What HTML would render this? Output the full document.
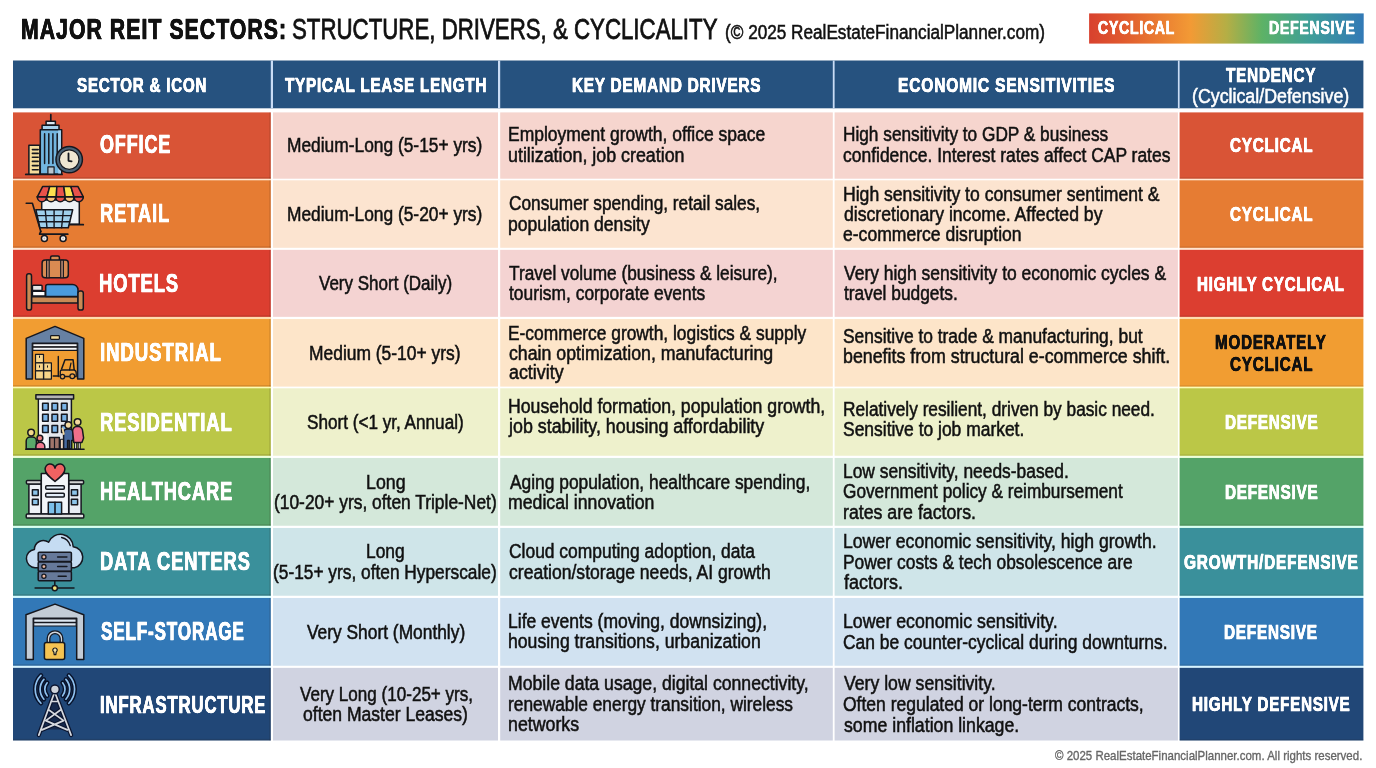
<!DOCTYPE html>
<html><head><meta charset="utf-8"><title>Major REIT Sectors</title>
<style>
html,body{margin:0;padding:0}
body{width:1376px;height:768px;position:relative;overflow:hidden;background:#fff;font-family:"Liberation Sans",sans-serif;color:#111}
.tx{position:absolute;left:0;top:0;width:1376px;height:768px;will-change:transform}
.t{position:absolute;white-space:nowrap;transform-origin:0 0}
svg{position:absolute;overflow:visible}
</style></head><body>
<svg width="1376" height="768" viewBox="0 0 1376 768" style="left:0;top:0">
<defs><linearGradient id="lg" x1="0" x2="1" y1="0" y2="0"><stop offset="0" stop-color="#D8412E"/><stop offset=".12" stop-color="#E0592E"/><stop offset=".37" stop-color="#F29A35"/><stop offset=".5" stop-color="#B5AE45"/><stop offset=".63" stop-color="#5DB266"/><stop offset=".8" stop-color="#3F9F97"/><stop offset="1" stop-color="#3279B6"/></linearGradient></defs>
<rect x="1089.10" y="13.40" width="274.60" height="30.20" fill="url(#lg)" />
<rect x="13.00" y="178.10" width="258.00" height="2.80" fill="#ffe8d2" />
<rect x="1179.70" y="178.10" width="183.70" height="2.80" fill="#ffe8d2" />
<rect x="13.00" y="247.20" width="258.00" height="3.25" fill="#ffe4d0" />
<rect x="1179.70" y="247.20" width="183.70" height="3.25" fill="#ffe4d0" />
<rect x="13.00" y="316.25" width="258.00" height="3.40" fill="#ffdcae" />
<rect x="1179.70" y="316.25" width="183.70" height="3.40" fill="#ffdcae" />
<rect x="13.00" y="386.00" width="258.00" height="2.90" fill="#fdfcb4" />
<rect x="1179.70" y="386.00" width="183.70" height="2.90" fill="#fdfcb4" />
<rect x="13.00" y="455.15" width="258.00" height="3.40" fill="#edffd8" />
<rect x="1179.70" y="455.15" width="183.70" height="3.40" fill="#edffd8" />
<rect x="13.00" y="525.15" width="258.00" height="3.40" fill="#d8fff0" />
<rect x="1179.70" y="525.15" width="183.70" height="3.40" fill="#d8fff0" />
<rect x="13.00" y="595.15" width="258.00" height="3.40" fill="#d4fbff" />
<rect x="1179.70" y="595.15" width="183.70" height="3.40" fill="#d4fbff" />
<rect x="13.00" y="665.15" width="258.00" height="3.30" fill="#d6f4ff" />
<rect x="1179.70" y="665.15" width="183.70" height="3.30" fill="#d6f4ff" />
<rect x="13.00" y="60.50" width="1350.40" height="47.80" fill="#26527F" />
<rect x="270.80" y="60.50" width="2.20" height="47.80" fill="#c9dcf5" />
<rect x="498.00" y="60.50" width="2.20" height="47.80" fill="#c9dcf5" />
<rect x="832.80" y="60.50" width="1.80" height="47.80" fill="#c9dcf5" />
<rect x="1177.90" y="60.50" width="1.70" height="47.80" fill="#c9dcf5" />
<rect x="13.00" y="112.40" width="257.80" height="66.30" fill="#D95436" />
<rect x="13.00" y="177.10" width="257.80" height="1.60" fill="rgb(30,15,0)" opacity=".12"/>
<rect x="269.20" y="112.40" width="1.60" height="66.30" fill="rgb(30,15,0)" opacity=".12"/>
<rect x="273.00" y="112.40" width="225.00" height="66.30" fill="#F6D5CE" />
<rect x="500.20" y="112.40" width="332.60" height="66.30" fill="#F6D5CE" />
<rect x="834.60" y="112.40" width="343.30" height="66.30" fill="#F6D5CE" />
<rect x="1179.60" y="112.40" width="183.80" height="66.30" fill="#D95436" />
<rect x="1179.60" y="177.30" width="183.80" height="1.40" fill="rgb(30,15,0)" opacity=".1"/>
<rect x="13.00" y="180.30" width="257.80" height="67.50" fill="#E67C33" />
<rect x="13.00" y="246.20" width="257.80" height="1.60" fill="rgb(30,15,0)" opacity=".12"/>
<rect x="269.20" y="180.30" width="1.60" height="67.50" fill="rgb(30,15,0)" opacity=".12"/>
<rect x="273.00" y="180.30" width="225.00" height="67.50" fill="#FCE4D0" />
<rect x="500.20" y="180.30" width="332.60" height="67.50" fill="#FCE4D0" />
<rect x="834.60" y="180.30" width="343.30" height="67.50" fill="#FCE4D0" />
<rect x="1179.60" y="180.30" width="183.80" height="67.50" fill="#E67C33" />
<rect x="1179.60" y="246.40" width="183.80" height="1.40" fill="rgb(30,15,0)" opacity=".1"/>
<rect x="13.00" y="249.85" width="257.80" height="67.00" fill="#DC3E30" />
<rect x="13.00" y="315.25" width="257.80" height="1.60" fill="rgb(30,15,0)" opacity=".12"/>
<rect x="269.20" y="249.85" width="1.60" height="67.00" fill="rgb(30,15,0)" opacity=".12"/>
<rect x="273.00" y="249.85" width="225.00" height="67.00" fill="#F4D3D2" />
<rect x="500.20" y="249.85" width="332.60" height="67.00" fill="#F4D3D2" />
<rect x="834.60" y="249.85" width="343.30" height="67.00" fill="#F4D3D2" />
<rect x="1179.60" y="249.85" width="183.80" height="67.00" fill="#DC3E30" />
<rect x="1179.60" y="315.45" width="183.80" height="1.40" fill="rgb(30,15,0)" opacity=".1"/>
<rect x="13.00" y="319.05" width="257.80" height="67.55" fill="#F19D32" />
<rect x="13.00" y="385.00" width="257.80" height="1.60" fill="rgb(30,15,0)" opacity=".12"/>
<rect x="269.20" y="319.05" width="1.60" height="67.55" fill="rgb(30,15,0)" opacity=".12"/>
<rect x="273.00" y="319.05" width="225.00" height="67.55" fill="#FDE5C9" />
<rect x="500.20" y="319.05" width="332.60" height="67.55" fill="#FDE5C9" />
<rect x="834.60" y="319.05" width="343.30" height="67.55" fill="#FDE5C9" />
<rect x="1179.60" y="319.05" width="183.80" height="67.55" fill="#F19D32" />
<rect x="1179.60" y="385.20" width="183.80" height="1.40" fill="rgb(30,15,0)" opacity=".1"/>
<rect x="13.00" y="388.30" width="257.80" height="67.45" fill="#BBC747" />
<rect x="13.00" y="454.15" width="257.80" height="1.60" fill="rgb(30,15,0)" opacity=".12"/>
<rect x="269.20" y="388.30" width="1.60" height="67.45" fill="rgb(30,15,0)" opacity=".12"/>
<rect x="273.00" y="388.30" width="225.00" height="67.45" fill="#EEF1CC" />
<rect x="500.20" y="388.30" width="332.60" height="67.45" fill="#EEF1CC" />
<rect x="834.60" y="388.30" width="343.30" height="67.45" fill="#EEF1CC" />
<rect x="1179.60" y="388.30" width="183.80" height="67.45" fill="#BBC747" />
<rect x="1179.60" y="454.35" width="183.80" height="1.40" fill="rgb(30,15,0)" opacity=".1"/>
<rect x="13.00" y="457.95" width="257.80" height="67.80" fill="#54A368" />
<rect x="13.00" y="524.15" width="257.80" height="1.60" fill="rgb(30,15,0)" opacity=".12"/>
<rect x="269.20" y="457.95" width="1.60" height="67.80" fill="rgb(30,15,0)" opacity=".12"/>
<rect x="273.00" y="457.95" width="225.00" height="67.80" fill="#D4E8DA" />
<rect x="500.20" y="457.95" width="332.60" height="67.80" fill="#D4E8DA" />
<rect x="834.60" y="457.95" width="343.30" height="67.80" fill="#D4E8DA" />
<rect x="1179.60" y="457.95" width="183.80" height="67.80" fill="#54A368" />
<rect x="1179.60" y="524.35" width="183.80" height="1.40" fill="rgb(30,15,0)" opacity=".1"/>
<rect x="13.00" y="527.95" width="257.80" height="67.80" fill="#3A909B" />
<rect x="13.00" y="594.15" width="257.80" height="1.60" fill="rgb(30,15,0)" opacity=".12"/>
<rect x="269.20" y="527.95" width="1.60" height="67.80" fill="rgb(30,15,0)" opacity=".12"/>
<rect x="273.00" y="527.95" width="225.00" height="67.80" fill="#CFE5E9" />
<rect x="500.20" y="527.95" width="332.60" height="67.80" fill="#CFE5E9" />
<rect x="834.60" y="527.95" width="343.30" height="67.80" fill="#CFE5E9" />
<rect x="1179.60" y="527.95" width="183.80" height="67.80" fill="#3A909B" />
<rect x="1179.60" y="594.35" width="183.80" height="1.40" fill="rgb(30,15,0)" opacity=".1"/>
<rect x="13.00" y="597.95" width="257.80" height="67.80" fill="#3278B7" />
<rect x="13.00" y="664.15" width="257.80" height="1.60" fill="rgb(30,15,0)" opacity=".12"/>
<rect x="269.20" y="597.95" width="1.60" height="67.80" fill="rgb(30,15,0)" opacity=".12"/>
<rect x="273.00" y="597.95" width="225.00" height="67.80" fill="#D1E2F1" />
<rect x="500.20" y="597.95" width="332.60" height="67.80" fill="#D1E2F1" />
<rect x="834.60" y="597.95" width="343.30" height="67.80" fill="#D1E2F1" />
<rect x="1179.60" y="597.95" width="183.80" height="67.80" fill="#3278B7" />
<rect x="1179.60" y="664.35" width="183.80" height="1.40" fill="rgb(30,15,0)" opacity=".1"/>
<rect x="13.00" y="667.85" width="257.80" height="72.65" fill="#214777" />
<rect x="13.00" y="738.90" width="257.80" height="1.60" fill="rgb(30,15,0)" opacity=".12"/>
<rect x="269.20" y="667.85" width="1.60" height="72.65" fill="rgb(30,15,0)" opacity=".12"/>
<rect x="273.00" y="667.85" width="225.00" height="72.65" fill="#D0D3E1" />
<rect x="500.20" y="667.85" width="332.60" height="72.65" fill="#D0D3E1" />
<rect x="834.60" y="667.85" width="343.30" height="72.65" fill="#D0D3E1" />
<rect x="1179.60" y="667.85" width="183.80" height="72.65" fill="#214777" />
<rect x="1179.60" y="739.10" width="183.80" height="1.40" fill="rgb(30,15,0)" opacity=".1"/>

<g stroke="#15171f" stroke-width="1.5" stroke-linejoin="round" stroke-linecap="round">
<path d="M25.8 174.4H62" fill="none" stroke-width="1.8"/>
<rect x="28.9" y="145.2" width="11" height="29" fill="#f5dc9b"/>
<path d="M32.4 149.6h5.8M32.4 153.4h5.8M32.4 157.3h5.8M32.4 161.4h5.8M32.4 165.6h5.8M32.4 169.7h5.8" fill="none" stroke-width="1.6"/>
<path d="M50.8 114.7V122" fill="none" stroke-width="1.7"/>
<rect x="46.1" y="121.3" width="9.3" height="4" fill="#dbe9f2"/>
<rect x="42.1" y="125.3" width="16.9" height="4.4" fill="#a8d3ee"/>
<rect x="40.3" y="129.7" width="21.4" height="44.3" fill="#72b5df"/>
<rect x="58.2" y="130.5" width="2.8" height="43" fill="#a3d0ee" stroke="none"/>
<rect x="47.9" y="166.9" width="6.2" height="7.1" fill="#b9c6cf" stroke-width="1.2"/>
<path d="M44.6 133.7V163.4M48.8 133.7V163.4M52.9 133.7V163.4M57.2 133.7V163.4" fill="none" stroke-width="1.5"/>
<circle cx="69.2" cy="159.6" r="13.2" fill="#4a6276"/>
<circle cx="69.2" cy="159.6" r="9.8" fill="#efe6d2" stroke-width="1.2"/>
<path d="M68.5 153.4V160.8L71.6 161.3" fill="none" stroke-width="1.8"/>
</g>
<g stroke="#15171f" stroke-width="1.5" stroke-linejoin="round" stroke-linecap="round">
<rect x="41.7" y="200" width="37.6" height="24.3" fill="#eef2f6"/>
<path d="M69.6 224.7H83.3" fill="none" stroke-width="1.7"/>
<path d="M37.3 196.8a4.6 2.9 0 0 0 9.2 0a4.6 2.9 0 0 0 9.2 0a4.6 2.9 0 0 0 9.2 0a4.6 2.9 0 0 0 9.2 0a4.6 2.9 0 0 0 9.2 0z" fill="#e8524a" transform="translate(0 0) scale(1 1)"/>
<path d="M46.5 196.8a4.6 5 0 0 0 9.2 0zM64.9 196.8a4.6 5 0 0 0 9.2 0z" fill="#f8c27a"/>
<path d="M37.3 196.8a4.6 5 0 0 0 9.2 0zM55.7 196.8a4.6 5 0 0 0 9.2 0zM74.1 196.8a4.6 5 0 0 0 9.2 0z" fill="#e8524a"/>
<path d="M42.6 186.6H49.7L47 196.8H37.3z" fill="#e8524a"/>
<path d="M49.7 186.6H56.8L56.3 196.8H47z" fill="#fbe04e"/>
<path d="M56.8 186.6H63.8L65.2 196.8H56.3z" fill="#e8524a"/>
<path d="M63.8 186.6H70.9L74 196.8H65.2z" fill="#fbe04e"/>
<path d="M70.9 186.6H78L83.3 196.8H74z" fill="#e8524a"/>
<path d="M35.9 209.7H72.7L68.3 227.8H39.9z" fill="#9fd0ec"/>
<path d="M37.3 215.6H71.3M38.7 221.7H69.8M45.2 209.7L47 227.8M54.1 209.7V227.8M63.4 209.7L61.6 227.8" fill="none" stroke-width="1.4"/>
<path d="M26.2 203.2H32.4L40.8 231.4" fill="none" stroke-width="1.6"/>
<path d="M39.9 234.2H67.8" fill="none" stroke-width="1.7"/>
<path d="M40.8 231.4L39.6 234.2" fill="none" stroke-width="1.7"/>
<circle cx="44.4" cy="238.5" r="3" fill="#f4f4f4"/><circle cx="63.1" cy="238.5" r="3" fill="#f4f4f4"/>
<circle cx="44.4" cy="238.5" r="0.9" fill="#b8b8b8" stroke="none"/><circle cx="63.1" cy="238.5" r="0.9" fill="#b8b8b8" stroke="none"/>
</g>
<g stroke="#15171f" stroke-width="1.5" stroke-linejoin="round" stroke-linecap="round">
<rect x="50.6" y="256.1" width="8.8" height="5.5" rx="1.5" fill="#d98b52"/>
<rect x="42.1" y="260.1" width="26.2" height="17.7" rx="3" fill="#d98b52"/>
<rect x="46.6" y="260.1" width="2.6" height="17.7" fill="#b98a72" stroke-width="1.1"/>
<rect x="60.7" y="260.1" width="2.7" height="17.7" fill="#b98a72" stroke-width="1.1"/>
<rect x="31.5" y="296.8" width="46.5" height="6.2" fill="#c98a55"/>
<rect x="32.4" y="285.3" width="9.7" height="5.2" rx="1" fill="#e6e6e6"/>
<rect x="32.4" y="291.3" width="12.8" height="4.8" fill="#ffffff"/>
<path d="M45.7 296.4V286.4a2 2 0 0 1 2-2H72.5a5.5 5.5 0 0 1 5.5 5.5V296.4z" fill="#4a9bdc"/>
<rect x="26.6" y="273.8" width="4.9" height="36.3" rx="2.2" fill="#c98a55"/>
<rect x="78" y="291.1" width="5.3" height="19" rx="2.2" fill="#c98a55"/>
</g>
<g stroke="#15171f" stroke-width="1.5" stroke-linejoin="round" stroke-linecap="round">
<path d="M26.2 379.1V338.4L55 326.4L83.8 338.4V379.1H77.6V343.2H32.4V379.1z" fill="#6781a3"/>
<rect x="50.6" y="335.7" width="8.8" height="3.6" rx="0.8" fill="#f5dc9b" stroke-width="1.2"/>
<rect x="32.8" y="343.6" width="44.4" height="3.2" fill="#f4f6f8" stroke-width="1.2"/>
<rect x="32.8" y="347.2" width="44.4" height="3.2" fill="#f4f6f8" stroke-width="1.2"/>
<g fill="#f7d489" stroke-width="1.2">
<rect x="35.5" y="354.3" width="8" height="8.6"/><rect x="35.5" y="362.9" width="8" height="8"/><rect x="35.5" y="370.9" width="8" height="8.2"/>
<rect x="43.7" y="362.9" width="7.7" height="8"/><rect x="43.7" y="370.9" width="7.7" height="8.2"/>
</g>
<path d="M39.5 356v1.4M39.5 365.8v1.4M47.5 365.8v1.4" fill="none" stroke-width="1"/>
<path d="M58.3 356.5V376.5M53.2 376H59" fill="none" stroke-width="1.4"/>
<path d="M61.6 369L65 359.8H73.1L74.2 370" fill="none" stroke-width="1.5"/>
<path d="M60.3 376.5V371.5Q60.3 370 62 370H74Q76.2 370.5 76.2 373V376.5z" fill="#f0a848" stroke-width="1.3"/>
<path d="M69.5 370L71 363" fill="none" stroke-width="1.2"/>
<circle cx="62.5" cy="376.6" r="2.2" fill="#e7a24a" stroke-width="1.3"/><circle cx="72.3" cy="376.2" r="2.4" fill="#e7a24a" stroke-width="1.3"/>
</g>
<g stroke="#15171f" stroke-width="1.5" stroke-linejoin="round" stroke-linecap="round">
<rect x="38.4" y="398" width="33" height="51" fill="#e4e8ee"/>
<rect x="39.3" y="399" width="8" height="49.4" fill="#f6f7f9" stroke="none"/>
<rect x="35.9" y="394.8" width="37.7" height="4.2" fill="#b4b4b4"/>
<rect x="42.6" y="403.2" width="5.6" height="7" fill="#7ab4e8" stroke-width="1.5"/><rect x="52.0" y="403.2" width="5.6" height="7" fill="#7ab4e8" stroke-width="1.5"/><rect x="61.5" y="403.2" width="5.6" height="7" fill="#7ab4e8" stroke-width="1.5"/><rect x="42.6" y="414.3" width="5.6" height="7" fill="#7ab4e8" stroke-width="1.5"/><rect x="52.0" y="414.3" width="5.6" height="7" fill="#7ab4e8" stroke-width="1.5"/><rect x="61.5" y="414.3" width="5.6" height="7" fill="#7ab4e8" stroke-width="1.5"/><rect x="42.6" y="425.4" width="5.6" height="7" fill="#7ab4e8" stroke-width="1.5"/><rect x="52.0" y="425.4" width="5.6" height="7" fill="#7ab4e8" stroke-width="1.5"/><rect x="61.5" y="425.4" width="5.6" height="7" fill="#7ab4e8" stroke-width="1.5"/>
<rect x="49.7" y="437.5" width="9.7" height="11.5" fill="#a0756a"/>
<path d="M54.5 437.5V449" fill="none" stroke-width="1.2"/>
<rect x="60.3" y="439.3" width="3.5" height="9.7" rx="1" fill="#ecd5be" stroke-width="1.1"/>
<path d="M26.2 449V441a4 4 0 0 1 4-4H32.4a4 4 0 0 1 4 4V449z" fill="#5aaa6a"/>
<circle cx="31.1" cy="432.6" r="3.3" fill="#f3d98b"/>
<path d="M35.9 449V446.5a4.4 4.2 0 0 1 8.9 0V449z" fill="#f07a90"/>
<circle cx="39.9" cy="438.2" r="2.9" fill="#ef7f7f"/>
<path d="M63.6 449V432.6a3.6 3.6 0 0 1 3.6-3.6H69.5a3.6 3.6 0 0 1 3.6 3.6V440.5H71.6V449H69.2V440.5H67.6V449H65.6z" fill="#46699e"/>
<path d="M63.8 434L62.4 428.4" fill="none" stroke="#f3d9a0" stroke-width="1.8"/>
<circle cx="68.3" cy="425.1" r="3.3" fill="#f3d9a0"/>
<rect x="74.6" y="442" width="2.1" height="7" fill="#f4f0ee" stroke-width="1.1"/><rect x="78.2" y="442" width="2.1" height="7" fill="#f4f0ee" stroke-width="1.1"/>
<path d="M73.8 442.4L72.6 431a4 4.2 0 0 1 4-4.4H78.6a4 4.2 0 0 1 4 4.4L83.6 438L81.9 442.4z" fill="#ee6f8a"/>
<circle cx="77.6" cy="422" r="3.3" fill="#f3d9a0"/>
<path d="M25.8 449.3H84" fill="none" stroke-width="1.6"/>
</g>
<g stroke="#15171f" stroke-width="1.5" stroke-linejoin="round" stroke-linecap="round">
<rect x="28.9" y="484" width="12.4" height="30.1" fill="#eef1f6"/>
<rect x="68.7" y="484" width="12.4" height="30.1" fill="#e6ebf3"/>
<rect x="26.4" y="480.5" width="14.9" height="3.5" rx="1" fill="#d4d4d4"/>
<rect x="68.7" y="480.5" width="14.9" height="3.5" rx="1" fill="#d4d4d4"/>
<rect x="41.3" y="473.4" width="27.4" height="40.7" fill="#f3f5f9"/>
<rect x="26.2" y="514.1" width="57.6" height="4" rx="1.2" fill="#e2e2e2"/>
<path d="M55 481.4C49 476.5 45.2 473.6 45.2 469.8a4.7 4.7 0 0 1 9.8-1.6a4.7 4.7 0 0 1 9.8 1.6C64.8 473.6 61 476.5 55 481.4z" fill="#f06262"/>
<rect x="45.7" y="485.8" width="18.6" height="3.5" rx="1" fill="#e4eefa"/>
<rect x="45.7" y="493.3" width="18.6" height="3.6" rx="1" fill="#e4eefa"/>
<rect x="48.3" y="502.2" width="13.3" height="11.9" fill="#7cc0ea"/>
<path d="M55 502.2V514.1" fill="none" stroke-width="1.6"/>
<g fill="#8cc4ea"><rect x="32.4" y="489.8" width="5.8" height="5.7"/><rect x="32.4" y="499.3" width="5.8" height="5.5"/><rect x="71.4" y="489.8" width="6.2" height="5.7"/><rect x="71.4" y="499.3" width="6.2" height="5.5"/></g>
</g>
<g stroke="#15171f" stroke-width="1.5" stroke-linejoin="round" stroke-linecap="round">
<path d="M35 567.7a9.2 9.2 0 0 1 -0.6-18.3a9 9 0 0 1 14.2-7.2a12.8 12.8 0 0 1 24.6 4.6a10.6 10.6 0 0 1 1.2 20.9z" fill="#c5dcf2"/>
<path d="M61.6 537.5q6.5 1.2 8.7 8.2" fill="none" stroke-width="1.3"/>
<g fill="#66799a"><rect x="38.2" y="552.2" width="33.2" height="9.4" rx="1"/><rect x="38.2" y="561.9" width="33.2" height="9.4" rx="1"/><rect x="38.2" y="571.6" width="33.2" height="9.2" rx="1"/></g>
<g fill="#e7b5a0" stroke-width="1.3"><circle cx="43.9" cy="557" r="2.1"/><circle cx="43.9" cy="566.6" r="2.1"/><circle cx="43.9" cy="576.2" r="2.1"/></g>
<path d="M57.6 557H66.9M57.6 566.6H66.9M58.2 576.2H66.2" fill="none" stroke-width="1.5"/>
<path d="M54.8 580.8V586M35.1 588.1H74" fill="none" stroke-width="1.5"/>
<circle cx="54.8" cy="588.1" r="2.6" fill="#f2e07a"/>
</g>
<g stroke="#15171f" stroke-width="1.5" stroke-linejoin="round" stroke-linecap="round">
<path d="M26 659.4V614.7L55 604.1L83.8 614.7V659.4H76.7V618.3H33.3V659.4z" fill="#c3ccd6"/>
<rect x="33.7" y="619" width="42.5" height="3.3" fill="#dde7f2" stroke-width="1.2"/>
<rect x="33.7" y="622.6" width="42.5" height="3.4" fill="#dde7f2" stroke-width="1.2"/>
<path d="M47.2 643V638.6a7.8 7.8 0 0 1 15.6 0V643H60.2V638.8a5.2 5.2 0 0 0 -10.4 0V643z" fill="#d3d8de" stroke-width="1.3"/>
<rect x="44.4" y="642.6" width="20.3" height="16.8" rx="2" fill="#f5c352"/>
<path d="M55 648a2.1 2.1 0 0 1 1.2 3.9L55.8 654.6H54.2L53.8 651.9A2.1 2.1 0 0 1 55 648z" fill="#f3e2a6" stroke-width="1.2"/>
</g>
<g stroke-linejoin="round" stroke-linecap="round" fill="none">
<path d="M47.16 695.79A10.1 10.1 0 0 1 47.16 682.81M62.64 682.81A10.1 10.1 0 0 1 62.64 695.79M43.90 699.20A14.8 14.8 0 0 1 43.90 679.40M65.90 679.40A14.8 14.8 0 0 1 65.90 699.20M40.97 703.23A19.7 19.7 0 0 1 40.97 675.37M68.83 675.37A19.7 19.7 0 0 1 68.83 703.23" stroke="#08122a" stroke-width="4.6"/>
<path d="M47.16 695.79A10.1 10.1 0 0 1 47.16 682.81M62.64 682.81A10.1 10.1 0 0 1 62.64 695.79M43.90 699.20A14.8 14.8 0 0 1 43.90 679.40M65.90 679.40A14.8 14.8 0 0 1 65.90 699.20M40.97 703.23A19.7 19.7 0 0 1 40.97 675.37M68.83 675.37A19.7 19.7 0 0 1 68.83 703.23" stroke="#8ec0ee" stroke-width="1.7"/>
<path d="M54.7 694L42.5 729.5H67L54.7 694z" fill="#16294d" stroke="none"/>
<path d="M54.7 692L38.8 735.1M54.7 692L71.1 735.1M48.6 709.8L63.6 720.6M60.8 709.8L45.8 720.6M45.8 720.6L67.3 729.9M63.6 720.6L42 729.9M51 701.5H58.4" stroke="#0b1530" stroke-width="4.2"/>
<path d="M54.7 692L38.8 735.1M54.7 692L71.1 735.1M48.6 709.8L63.6 720.6M60.8 709.8L45.8 720.6M45.8 720.6L67.3 729.9M63.6 720.6L42 729.9M51 701.5H58.4" stroke="#d5d8de" stroke-width="1.7"/>
<circle cx="54.9" cy="689.3" r="4.4" fill="#cfd3da" stroke="#0b1530" stroke-width="1.5"/>
</g>
</svg>
<div class="tx">
<div class="t b" style="left:20.73px;top:15px;font-size:28.8px;line-height:28.8px;transform:scaleX(0.7367);-webkit-text-stroke:0.69px;letter-spacing:1.44px;font-weight:700;text-shadow:0.26px 0 0 currentColor,-0.26px 0 0 currentColor;">MAJOR REIT SECTORS:</div>
<div class="t" style="left:291.99px;top:15px;font-size:28.8px;line-height:28.8px;transform:scaleX(0.7730);-webkit-text-stroke:0.78px;">STRUCTURE, DRIVERS, &amp; CYCLICALITY</div>
<div class="t" style="left:725.27px;top:22px;font-size:20px;line-height:20px;transform:scaleX(0.8585);-webkit-text-stroke:0.54px;">(© 2025 RealEstateFinancialPlanner.com)</div>
<div class="t b" style="left:1097.52px;top:19px;font-size:18.5px;line-height:18.5px;transform:scaleX(0.7629);-webkit-text-stroke:0.44px;letter-spacing:0.93px;font-weight:700;text-shadow:0.17px 0 0 currentColor,-0.17px 0 0 currentColor;color:#fff;">CYCLICAL</div>
<div class="t b" style="left:1268.95px;top:19px;font-size:18.5px;line-height:18.5px;transform:scaleX(0.7631);-webkit-text-stroke:0.44px;letter-spacing:0.93px;font-weight:700;text-shadow:0.17px 0 0 currentColor,-0.17px 0 0 currentColor;color:#fff;">DEFENSIVE</div>
<div class="t b" style="left:77.48px;top:74px;font-size:21px;line-height:21px;transform:scaleX(0.7227);-webkit-text-stroke:0.5px;letter-spacing:1.05px;font-weight:700;text-shadow:0.19px 0 0 currentColor,-0.19px 0 0 currentColor;color:#fff;">SECTOR &amp; ICON</div>
<div class="t b" style="left:285.25px;top:74px;font-size:21px;line-height:21px;transform:scaleX(0.7262);-webkit-text-stroke:0.5px;letter-spacing:1.05px;font-weight:700;text-shadow:0.19px 0 0 currentColor,-0.19px 0 0 currentColor;color:#fff;">TYPICAL LEASE LENGTH</div>
<div class="t b" style="left:571.99px;top:74px;font-size:21px;line-height:21px;transform:scaleX(0.7310);-webkit-text-stroke:0.5px;letter-spacing:1.05px;font-weight:700;text-shadow:0.19px 0 0 currentColor,-0.19px 0 0 currentColor;color:#fff;">KEY DEMAND DRIVERS</div>
<div class="t b" style="left:897.78px;top:74px;font-size:21px;line-height:21px;transform:scaleX(0.7425);-webkit-text-stroke:0.5px;letter-spacing:1.05px;font-weight:700;text-shadow:0.19px 0 0 currentColor,-0.19px 0 0 currentColor;color:#fff;">ECONOMIC SENSITIVITIES</div>
<div class="t b" style="left:1226.35px;top:64px;font-size:21px;line-height:21px;transform:scaleX(0.7282);-webkit-text-stroke:0.5px;letter-spacing:1.05px;font-weight:700;text-shadow:0.19px 0 0 currentColor,-0.19px 0 0 currentColor;color:#fff;">TENDENCY</div>
<div class="t" style="left:1192.04px;top:86px;font-size:20px;line-height:20px;transform:scaleX(0.8897);-webkit-text-stroke:0.54px;color:#fff;">(Cyclical/Defensive)</div>
<div class="t b" style="left:99.94px;top:132px;font-size:25.2px;line-height:25.2px;transform:scaleX(0.7124);-webkit-text-stroke:0.6px;letter-spacing:1.26px;font-weight:700;text-shadow:0.23px 0 0 currentColor,-0.23px 0 0 currentColor;color:#fff;">OFFICE</div>
<div class="t b" style="left:99.86px;top:201px;font-size:25.2px;line-height:25.2px;transform:scaleX(0.7257);-webkit-text-stroke:0.6px;letter-spacing:1.26px;font-weight:700;text-shadow:0.23px 0 0 currentColor,-0.23px 0 0 currentColor;color:#fff;">RETAIL</div>
<div class="t b" style="left:99.46px;top:271px;font-size:25.2px;line-height:25.2px;transform:scaleX(0.7291);-webkit-text-stroke:0.6px;letter-spacing:1.26px;font-weight:700;text-shadow:0.23px 0 0 currentColor,-0.23px 0 0 currentColor;color:#fff;">HOTELS</div>
<div class="t b" style="left:100.35px;top:340px;font-size:25.2px;line-height:25.2px;transform:scaleX(0.7374);-webkit-text-stroke:0.6px;letter-spacing:1.26px;font-weight:700;text-shadow:0.23px 0 0 currentColor,-0.23px 0 0 currentColor;color:#fff;">INDUSTRIAL</div>
<div class="t b" style="left:99.86px;top:410px;font-size:25.2px;line-height:25.2px;transform:scaleX(0.7296);-webkit-text-stroke:0.6px;letter-spacing:1.26px;font-weight:700;text-shadow:0.23px 0 0 currentColor,-0.23px 0 0 currentColor;color:#fff;">RESIDENTIAL</div>
<div class="t b" style="left:99.87px;top:479px;font-size:25.2px;line-height:25.2px;transform:scaleX(0.7222);-webkit-text-stroke:0.6px;letter-spacing:1.26px;font-weight:700;text-shadow:0.23px 0 0 currentColor,-0.23px 0 0 currentColor;color:#fff;">HEALTHCARE</div>
<div class="t b" style="left:99.86px;top:549px;font-size:25.2px;line-height:25.2px;transform:scaleX(0.7257);-webkit-text-stroke:0.6px;letter-spacing:1.26px;font-weight:700;text-shadow:0.23px 0 0 currentColor,-0.23px 0 0 currentColor;color:#fff;">DATA CENTERS</div>
<div class="t b" style="left:100.57px;top:619px;font-size:25.2px;line-height:25.2px;transform:scaleX(0.6779);-webkit-text-stroke:0.6px;letter-spacing:1.26px;font-weight:700;text-shadow:0.23px 0 0 currentColor,-0.23px 0 0 currentColor;color:#fff;">SELF-STORAGE</div>
<div class="t b" style="left:99.93px;top:694px;font-size:23.5px;line-height:23.5px;transform:scaleX(0.7131);-webkit-text-stroke:0.56px;letter-spacing:1.18px;font-weight:700;text-shadow:0.21px 0 0 currentColor,-0.21px 0 0 currentColor;color:#fff;">INFRASTRUCTURE</div>
<div class="t" style="left:287.41px;top:135px;font-size:20px;line-height:20px;transform:scaleX(0.8678);-webkit-text-stroke:0.54px;">Medium-Long (5-15+ yrs)</div>
<div class="t" style="left:287.41px;top:204px;font-size:20px;line-height:20px;transform:scaleX(0.8678);-webkit-text-stroke:0.54px;">Medium-Long (5-20+ yrs)</div>
<div class="t" style="left:319.35px;top:273px;font-size:20px;line-height:20px;transform:scaleX(0.8504);-webkit-text-stroke:0.54px;">Very Short (Daily)</div>
<div class="t" style="left:309.31px;top:343px;font-size:20px;line-height:20px;transform:scaleX(0.8712);-webkit-text-stroke:0.54px;">Medium (5-10+ yrs)</div>
<div class="t" style="left:306.95px;top:412px;font-size:20px;line-height:20px;transform:scaleX(0.8567);-webkit-text-stroke:0.54px;">Short (&lt;1 yr, Annual)</div>
<div class="t" style="left:365.88px;top:472px;font-size:20px;line-height:20px;transform:scaleX(0.8881);-webkit-text-stroke:0.54px;">Long</div>
<div class="t" style="left:274.06px;top:492px;font-size:20px;line-height:20px;transform:scaleX(0.8691);-webkit-text-stroke:0.54px;">(10-20+ yrs, often Triple-Net)</div>
<div class="t" style="left:366.21px;top:541px;font-size:20px;line-height:20px;transform:scaleX(0.8691);-webkit-text-stroke:0.54px;">Long</div>
<div class="t" style="left:273.46px;top:562px;font-size:20px;line-height:20px;transform:scaleX(0.8655);-webkit-text-stroke:0.54px;">(5-15+ yrs, often Hyperscale)</div>
<div class="t" style="left:306.86px;top:622px;font-size:20px;line-height:20px;transform:scaleX(0.8677);-webkit-text-stroke:0.54px;">Very Short (Monthly)</div>
<div class="t" style="left:299.66px;top:684px;font-size:20px;line-height:20px;transform:scaleX(0.8529);-webkit-text-stroke:0.54px;">Very Long (10-25+ yrs,</div>
<div class="t" style="left:303.00px;top:704px;font-size:20px;line-height:20px;transform:scaleX(0.8780);-webkit-text-stroke:0.54px;">often Master Leases)</div>
<div class="t" style="left:508.10px;top:124px;font-size:20px;line-height:20px;transform:scaleX(0.8740);-webkit-text-stroke:0.54px;">Employment growth, office space</div>
<div class="t" style="left:508.38px;top:145px;font-size:20px;line-height:20px;transform:scaleX(0.8921);-webkit-text-stroke:0.54px;">utilization, job creation</div>
<div class="t" style="left:508.66px;top:193px;font-size:20px;line-height:20px;transform:scaleX(0.8620);-webkit-text-stroke:0.54px;">Consumer spending, retail sales,</div>
<div class="t" style="left:508.40px;top:214px;font-size:20px;line-height:20px;transform:scaleX(0.8794);-webkit-text-stroke:0.54px;">population density</div>
<div class="t" style="left:509.15px;top:263px;font-size:20px;line-height:20px;transform:scaleX(0.8619);-webkit-text-stroke:0.54px;">Travel volume (business &amp; leisure),</div>
<div class="t" style="left:509.27px;top:283px;font-size:20px;line-height:20px;transform:scaleX(0.8696);-webkit-text-stroke:0.54px;">tourism, corporate events</div>
<div class="t" style="left:508.11px;top:323px;font-size:20px;line-height:20px;transform:scaleX(0.8682);-webkit-text-stroke:0.54px;">E-commerce growth, logistics &amp; supply</div>
<div class="t" style="left:508.79px;top:343px;font-size:20px;line-height:20px;transform:scaleX(0.8868);-webkit-text-stroke:0.54px;">chain optimization, manufacturing</div>
<div class="t" style="left:508.78px;top:362px;font-size:20px;line-height:20px;transform:scaleX(0.8934);-webkit-text-stroke:0.54px;">activity</div>
<div class="t" style="left:508.09px;top:396px;font-size:20px;line-height:20px;transform:scaleX(0.8834);-webkit-text-stroke:0.54px;">Household formation, population growth,</div>
<div class="t" style="left:508.68px;top:416px;font-size:20px;line-height:20px;transform:scaleX(0.8921);-webkit-text-stroke:0.54px;">job stability, housing affordability</div>
<div class="t" style="left:509.50px;top:472px;font-size:20px;line-height:20px;transform:scaleX(0.8681);-webkit-text-stroke:0.54px;">Aging population, healthcare spending,</div>
<div class="t" style="left:508.36px;top:492px;font-size:20px;line-height:20px;transform:scaleX(0.8840);-webkit-text-stroke:0.54px;">medical innovation</div>
<div class="t" style="left:508.65px;top:541px;font-size:20px;line-height:20px;transform:scaleX(0.8711);-webkit-text-stroke:0.54px;">Cloud computing adoption, data</div>
<div class="t" style="left:508.79px;top:562px;font-size:20px;line-height:20px;transform:scaleX(0.8783);-webkit-text-stroke:0.54px;">creation/storage needs, AI growth</div>
<div class="t" style="left:508.10px;top:611px;font-size:20px;line-height:20px;transform:scaleX(0.8760);-webkit-text-stroke:0.54px;">Life events (moving, downsizing),</div>
<div class="t" style="left:508.32px;top:631px;font-size:20px;line-height:20px;transform:scaleX(0.8809);-webkit-text-stroke:0.54px;">housing transitions, urbanization</div>
<div class="t" style="left:508.09px;top:673px;font-size:20px;line-height:20px;transform:scaleX(0.8818);-webkit-text-stroke:0.54px;">Mobile data usage, digital connectivity,</div>
<div class="t" style="left:508.38px;top:694px;font-size:20px;line-height:20px;transform:scaleX(0.8661);-webkit-text-stroke:0.54px;">renewable energy transition, wireless</div>
<div class="t" style="left:508.36px;top:714px;font-size:20px;line-height:20px;transform:scaleX(0.8889);-webkit-text-stroke:0.54px;">networks</div>
<div class="t" style="left:842.82px;top:124px;font-size:20px;line-height:20px;transform:scaleX(0.8622);-webkit-text-stroke:0.54px;">High sensitivity to GDP &amp; business</div>
<div class="t" style="left:843.49px;top:145px;font-size:20px;line-height:20px;transform:scaleX(0.8730);-webkit-text-stroke:0.54px;">confidence. Interest rates affect CAP rates</div>
<div class="t" style="left:842.80px;top:184px;font-size:20px;line-height:20px;transform:scaleX(0.8789);-webkit-text-stroke:0.54px;">High sensitivity to consumer sentiment &amp;</div>
<div class="t" style="left:843.50px;top:204px;font-size:20px;line-height:20px;transform:scaleX(0.8819);-webkit-text-stroke:0.54px;">discretionary income. Affected by</div>
<div class="t" style="left:843.49px;top:224px;font-size:20px;line-height:20px;transform:scaleX(0.8780);-webkit-text-stroke:0.54px;">e-commerce disruption</div>
<div class="t" style="left:844.16px;top:263px;font-size:20px;line-height:20px;transform:scaleX(0.8727);-webkit-text-stroke:0.54px;">Very high sensitivity to economic cycles &amp;</div>
<div class="t" style="left:843.97px;top:283px;font-size:20px;line-height:20px;transform:scaleX(0.8672);-webkit-text-stroke:0.54px;">travel budgets.</div>
<div class="t" style="left:843.45px;top:326px;font-size:20px;line-height:20px;transform:scaleX(0.8694);-webkit-text-stroke:0.54px;">Sensitive to trade &amp; manufacturing, but</div>
<div class="t" style="left:843.09px;top:346px;font-size:20px;line-height:20px;transform:scaleX(0.8894);-webkit-text-stroke:0.54px;">benefits from structural e-commerce shift.</div>
<div class="t" style="left:842.82px;top:399px;font-size:20px;line-height:20px;transform:scaleX(0.8631);-webkit-text-stroke:0.54px;">Relatively resilient, driven by basic need.</div>
<div class="t" style="left:843.44px;top:419px;font-size:20px;line-height:20px;transform:scaleX(0.8722);-webkit-text-stroke:0.54px;">Sensitive to job market.</div>
<div class="t" style="left:842.81px;top:461px;font-size:20px;line-height:20px;transform:scaleX(0.8690);-webkit-text-stroke:0.54px;">Low sensitivity, needs-based.</div>
<div class="t" style="left:843.37px;top:481px;font-size:20px;line-height:20px;transform:scaleX(0.8618);-webkit-text-stroke:0.54px;">Government policy &amp; reimbursement</div>
<div class="t" style="left:843.06px;top:502px;font-size:20px;line-height:20px;transform:scaleX(0.8864);-webkit-text-stroke:0.54px;">rates are factors.</div>
<div class="t" style="left:842.79px;top:531px;font-size:20px;line-height:20px;transform:scaleX(0.8800);-webkit-text-stroke:0.54px;">Lower economic sensitivity, high growth.</div>
<div class="t" style="left:842.81px;top:552px;font-size:20px;line-height:20px;transform:scaleX(0.8684);-webkit-text-stroke:0.54px;">Power costs &amp; tech obsolescence are</div>
<div class="t" style="left:843.99px;top:572px;font-size:20px;line-height:20px;transform:scaleX(0.8999);-webkit-text-stroke:0.54px;">factors.</div>
<div class="t" style="left:842.78px;top:611px;font-size:20px;line-height:20px;transform:scaleX(0.8869);-webkit-text-stroke:0.54px;">Lower economic sensitivity.</div>
<div class="t" style="left:843.35px;top:632px;font-size:20px;line-height:20px;transform:scaleX(0.8716);-webkit-text-stroke:0.54px;">Can be counter-cyclical during downturns.</div>
<div class="t" style="left:844.16px;top:673px;font-size:20px;line-height:20px;transform:scaleX(0.8819);-webkit-text-stroke:0.54px;">Very low sensitivity.</div>
<div class="t" style="left:843.41px;top:694px;font-size:20px;line-height:20px;transform:scaleX(0.8755);-webkit-text-stroke:0.54px;">Often regulated or long-term contracts,</div>
<div class="t" style="left:843.75px;top:715px;font-size:20px;line-height:20px;transform:scaleX(0.8855);-webkit-text-stroke:0.54px;">some inflation linkage.</div>
<div class="t b" style="left:1229.59px;top:134px;font-size:21px;line-height:21px;transform:scaleX(0.7273);-webkit-text-stroke:0.5px;letter-spacing:1.05px;font-weight:700;text-shadow:0.19px 0 0 currentColor,-0.19px 0 0 currentColor;color:#fff;">CYCLICAL</div>
<div class="t b" style="left:1229.59px;top:203px;font-size:21px;line-height:21px;transform:scaleX(0.7273);-webkit-text-stroke:0.5px;letter-spacing:1.05px;font-weight:700;text-shadow:0.19px 0 0 currentColor,-0.19px 0 0 currentColor;color:#fff;">CYCLICAL</div>
<div class="t b" style="left:1196.60px;top:273px;font-size:21px;line-height:21px;transform:scaleX(0.7213);-webkit-text-stroke:0.5px;letter-spacing:1.05px;font-weight:700;text-shadow:0.19px 0 0 currentColor,-0.19px 0 0 currentColor;color:#fff;">HIGHLY CYCLICAL</div>
<div class="t b" style="left:1215.00px;top:331px;font-size:21px;line-height:21px;transform:scaleX(0.7245);-webkit-text-stroke:0.5px;letter-spacing:1.05px;font-weight:700;text-shadow:0.19px 0 0 currentColor,-0.19px 0 0 currentColor;">MODERATELY</div>
<div class="t b" style="left:1229.59px;top:353px;font-size:21px;line-height:21px;transform:scaleX(0.7273);-webkit-text-stroke:0.5px;letter-spacing:1.05px;font-weight:700;text-shadow:0.19px 0 0 currentColor,-0.19px 0 0 currentColor;">CYCLICAL</div>
<div class="t b" style="left:1224.50px;top:411px;font-size:21px;line-height:21px;transform:scaleX(0.7273);-webkit-text-stroke:0.5px;letter-spacing:1.05px;font-weight:700;text-shadow:0.19px 0 0 currentColor,-0.19px 0 0 currentColor;color:#fff;">DEFENSIVE</div>
<div class="t b" style="left:1224.50px;top:481px;font-size:21px;line-height:21px;transform:scaleX(0.7273);-webkit-text-stroke:0.5px;letter-spacing:1.05px;font-weight:700;text-shadow:0.19px 0 0 currentColor,-0.19px 0 0 currentColor;color:#fff;">DEFENSIVE</div>
<div class="t b" style="left:1184.19px;top:551px;font-size:21px;line-height:21px;transform:scaleX(0.7356);-webkit-text-stroke:0.5px;letter-spacing:1.05px;font-weight:700;text-shadow:0.19px 0 0 currentColor,-0.19px 0 0 currentColor;color:#fff;">GROWTH/DEFENSIVE</div>
<div class="t b" style="left:1224.10px;top:621px;font-size:21px;line-height:21px;transform:scaleX(0.7296);-webkit-text-stroke:0.5px;letter-spacing:1.05px;font-weight:700;text-shadow:0.19px 0 0 currentColor,-0.19px 0 0 currentColor;color:#fff;">DEFENSIVE</div>
<div class="t b" style="left:1191.70px;top:693px;font-size:21px;line-height:21px;transform:scaleX(0.7249);-webkit-text-stroke:0.5px;letter-spacing:1.05px;font-weight:700;text-shadow:0.19px 0 0 currentColor,-0.19px 0 0 currentColor;color:#fff;">HIGHLY DEFENSIVE</div>
<div class="t" style="left:1055.28px;top:749px;font-size:13.5px;line-height:13.5px;transform:scaleX(0.8510);-webkit-text-stroke:0.36px;color:#666;">© 2025 RealEstateFinancialPlanner.com. All rights reserved.</div>
</div>
</body></html>
